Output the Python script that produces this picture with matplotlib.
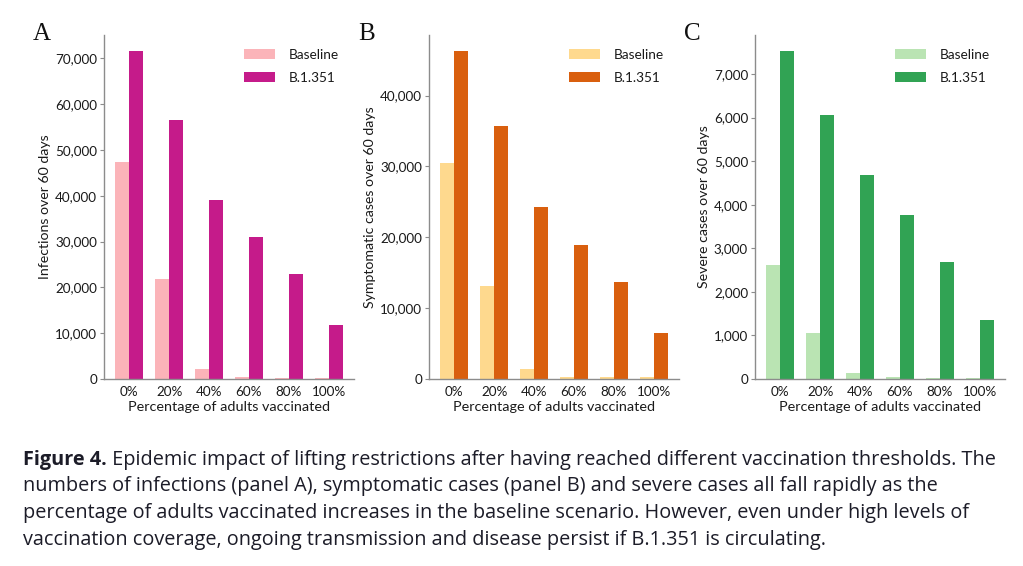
import matplotlib
matplotlib.use("Agg")
import matplotlib.pyplot as plt
import numpy as np
from matplotlib.ticker import FuncFormatter

categories = ["0%", "20%", "40%", "60%", "80%", "100%"]
series_names = ["Baseline", "B.1.351"]

infections_baseline = [47300, 21800, 2250, 450, 300, 250]
infections_b1351 = [71500, 56550, 39000, 31000, 23000, 11800]

symptomatic_baseline = [30500, 13150, 1420, 300, 250, 250]
symptomatic_b1351 = [46230, 35640, 24290, 18970, 13740, 6540]

severe_baseline = [2620, 1057, 145, 35, 25, 20]
severe_b1351 = [7520, 6060, 4680, 3770, 2690, 1356]

panel_letters = ["A", "B", "C"]
ylabels = ["Infections over 60 days", "Symptomatic cases over 60 days", "Severe cases over 60 days"]
xlabel = "Percentage of adults vaccinated"
colors = [("#fbb4b9", "#c51b8a"), ("#fed98e", "#d95f0e"), ("#bae4b3", "#31a354")]

caption_bold = "Figure 4."
caption_lines = [
    " Epidemic impact of lifting restrictions after having reached different vaccination thresholds. The",
    "numbers of infections (panel A), symptomatic cases (panel B) and severe cases all fall rapidly as the",
    "percentage of adults vaccinated increases in the baseline scenario. However, even under high levels of",
    "vaccination coverage, ongoing transmission and disease persist if B.1.351 is circulating.",
]

W, H = 1023, 566
fig = plt.figure(figsize=(W / 100, H / 100), dpi=100)
fig.patch.set_facecolor("white")

axes_left_px = [104, 429, 755]
ax_w_px, ax_top_px, ax_bot_px = 250, 35, 379
data = [(infections_baseline, infections_b1351),
        (symptomatic_baseline, symptomatic_b1351),
        (severe_baseline, severe_b1351)]

tick_font = "Lato"
x = np.arange(len(categories))
bw = 0.35
for i, (lp, (base, var)) in enumerate(zip(axes_left_px, data)):
    ax = fig.add_axes([lp / W, (H - ax_bot_px) / H, ax_w_px / W, (ax_bot_px - ax_top_px) / H])
    ax.bar(x - bw / 2, base, width=bw, color=colors[i][0], label=series_names[0])
    ax.bar(x + bw / 2, var, width=bw, color=colors[i][1], label=series_names[1])
    ax.set_xticks(x)
    ax.set_xticklabels(categories)
    ax.yaxis.set_major_formatter(FuncFormatter(lambda v, p: f"{int(v):,}"))
    for s in ["top", "right"]:
        ax.spines[s].set_visible(False)
    for s in ["left", "bottom"]:
        ax.spines[s].set_color("#8c8c8c")
        ax.spines[s].set_linewidth(1.0)
    ax.tick_params(axis="y", length=3, width=0.8, color="#8c8c8c", labelsize=9.7, pad=2)
    ax.tick_params(axis="x", length=0, labelsize=9.7, pad=5)
    for lab in ax.get_xticklabels() + ax.get_yticklabels():
        lab.set_fontfamily(tick_font)
        lab.set_color("#1a1a1a")
    ax.set_ylabel(ylabels[i], fontsize=10.2, fontfamily=tick_font, color="#1a1a1a", labelpad=3)
    ax.set_xlabel(xlabel, fontsize=10.4, fontfamily=tick_font, color="#1a1a1a", labelpad=2)
    leg = ax.legend(loc="upper left", bbox_to_anchor=(0.56, 0.96), frameon=False,
                    prop={"family": tick_font, "size": 9.8}, handlelength=2.3,
                    handleheight=0.75, handletextpad=1.0, labelspacing=0.8,
                    borderpad=0, borderaxespad=0)
    for t in leg.get_texts():
        t.set_color("#1a1a1a")
    fig.text((lp - 71) / W, 1 - 40 / H, panel_letters[i], fontsize=18,
             fontfamily="Liberation Serif", color="#111111", va="baseline", ha="left")

cap_font = "Open Sans"
cap_size = 14.35
cap_color = "#1c1c28"
baselines = [465, 491.5, 518, 545]
t0 = fig.text(23 / W, 1 - baselines[0] / H, caption_bold, fontsize=cap_size, fontfamily=cap_font,
              fontweight="bold", color=cap_color, va="baseline", ha="left")
fig.canvas.draw()
r = fig.canvas.get_renderer()
bb = t0.get_window_extent(renderer=r)
fig.text(bb.x1 / W, 1 - baselines[0] / H, caption_lines[0], fontsize=cap_size, fontfamily=cap_font,
         color=cap_color, va="baseline", ha="left")
for yb, line in zip(baselines[1:], caption_lines[1:]):
    fig.text(23 / W, 1 - yb / H, line, fontsize=cap_size, fontfamily=cap_font,
             color=cap_color, va="baseline", ha="left")

fig.savefig("out.png", dpi=100, facecolor="white")
